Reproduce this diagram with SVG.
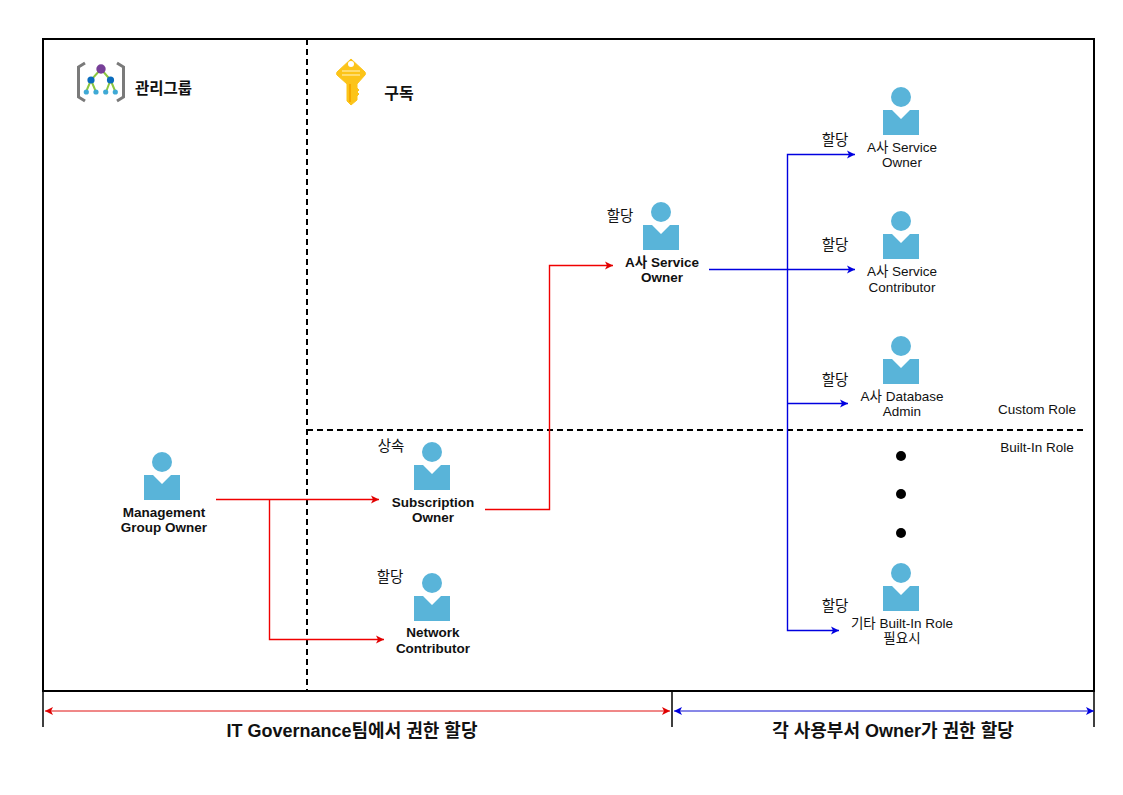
<svg xmlns="http://www.w3.org/2000/svg" width="1123" height="795" viewBox="0 0 1123 795">
<style>
text{font-family:"Liberation Sans","Noto Sans CJK KR",sans-serif;font-size:13.5px;fill:#111;text-anchor:middle}
.b{font-weight:bold}
.k{font-size:14.5px}
.big{font-weight:bold;font-size:18px}
.frame{fill:none;stroke:#000;stroke-width:2}
.dash{fill:none;stroke:#000;stroke-width:2;stroke-dasharray:6 4}
.red{fill:none;stroke:#f00000;stroke-width:1.4;marker-end:url(#ar)}
.blue{fill:none;stroke:#0000e0;stroke-width:1.4;marker-end:url(#ab)}
.p{fill:#59b4d9}
</style>
<defs>
<marker id="ar" markerUnits="userSpaceOnUse" markerWidth="9" markerHeight="9" refX="8" refY="4.5" orient="auto-start-reverse"><path d="M0,0.5L8,4.5L0,8.5L2,4.5Z" fill="#e00000"/></marker>
<marker id="ab" markerUnits="userSpaceOnUse" markerWidth="9" markerHeight="9" refX="8" refY="4.5" orient="auto-start-reverse"><path d="M0,0.5L8,4.5L0,8.5L2,4.5Z" fill="#0000e0"/></marker>
<g id="person"><circle class="p" cx="0" cy="0" r="10"/><path class="p" d="M-18,13H-9L0,22L9,13H18V38H-18Z"/></g>
</defs>
<rect width="1123" height="795" fill="#fff"/>
<g id="frame">
<rect class="frame" x="43" y="39" width="1051" height="652"/>
<path d="M43,691V727M672,691V727M1094,691V727" fill="none" stroke="#000" stroke-width="1.5"/>
<path class="dash" d="M307,39V691"/>
<path class="dash" d="M307,430H1086"/>
</g>
<g id="connectors">
<path class="red" d="M216,499.5H379"/>
<path class="red" d="M269.5,499.5V639.5H384"/>
<path class="red" d="M485,509.5H549.5V265.5H613"/>
<path class="blue" d="M709,269.5H855"/>
<path class="blue" d="M787.5,269.5V154.5H855"/>
<path class="blue" d="M787.5,269.5V630.5H839"/>
<path class="blue" d="M787.5,403.5H848"/>
<path d="M45,711H670" fill="none" stroke="#e01010" stroke-width="1" marker-start="url(#ar)" marker-end="url(#ar)"/>
<path d="M674,711H1094" fill="none" stroke="#1010d0" stroke-width="1" marker-start="url(#ab)" marker-end="url(#ab)"/>
</g>
<g id="mgmt-icon">
<path d="M85,63L78.500,67V97L85,101M117,63L123.500,67V97L117,101" fill="none" stroke="#7a7a7a" stroke-width="3"/>
<path d="M101,69L91,80L86,92M91,80L96,92M101,69L110.500,80L106,92M110.500,80L115.500,92" fill="none" stroke="#8cc63f" stroke-width="2"/>
<circle cx="101" cy="69" r="4.700" fill="#773f98"/>
<circle cx="91" cy="80" r="3.600" fill="#0a6cbd"/><circle cx="110.500" cy="80" r="3.600" fill="#0a6cbd"/>
<circle cx="86.300" cy="92" r="2.600" fill="#3fa9d5"/><circle cx="96" cy="92" r="2.600" fill="#3fa9d5"/><circle cx="105.700" cy="92" r="2.600" fill="#3fa9d5"/><circle cx="115.300" cy="92" r="2.600" fill="#3fa9d5"/>
<text class="b" x="163.500" y="94" style="font-size:15.500px">관리그룹</text>
</g>
<g id="key-icon">
<path d="M351,59L365,72Q366,74 365,75L357,84V88L359,90L357,92L359,94L357,96V100L351,105L347,101V84L337,75Q336,74 337,72Z" fill="#fcc419" stroke="#fcc419" stroke-linejoin="round"/>
<circle cx="351" cy="64" r="3" fill="#fff"/>
<path d="M342,71H360M342,75H360" stroke="#ffe38a" stroke-width="1.500"/>
<path d="M350,84V102" stroke="#f5a800" stroke-width="2"/>
<text class="b" x="399" y="99" style="font-size:16px">구독</text>
</g>
<g id="node-mgo"><use href="#person" x="162" y="462"/><text class="b" x="164" y="517">Management</text><text class="b" x="164" y="532">Group Owner</text></g>
<g id="node-sub"><use href="#person" x="432" y="452"/><text class="k" x="391" y="451">상속</text><text class="b" x="433" y="507">Subscription</text><text class="b" x="433" y="522">Owner</text></g>
<g id="node-net"><use href="#person" x="432" y="583"/><text class="k" x="390" y="582">할당</text><text class="b" x="433" y="637">Network</text><text class="b" x="433" y="653">Contributor</text></g>
<g id="node-aso"><use href="#person" x="661" y="212"/><text class="k" x="620" y="221">할당</text><text class="b" x="662" y="267">A사 Service</text><text class="b" x="662" y="282">Owner</text></g>
<g id="node-a1"><use href="#person" x="901" y="97"/><text class="k" x="835" y="145">할당</text><text x="902" y="152">A사 Service</text><text x="902" y="167">Owner</text></g>
<g id="node-a2"><use href="#person" x="901" y="221"/><text class="k" x="835" y="250">할당</text><text x="902" y="276">A사 Service</text><text x="902" y="292">Contributor</text></g>
<g id="node-a3"><use href="#person" x="901" y="346"/><text class="k" x="835" y="385">할당</text><text x="902" y="401">A사 Database</text><text x="902" y="416">Admin</text></g>
<g id="node-a4"><use href="#person" x="901" y="573"/><text class="k" x="835" y="611">할당</text><text x="902" y="628">기타 Built-In Role</text><text x="902" y="643">필요시</text></g>
<g id="dots"><circle cx="901" cy="456" r="5"/><circle cx="901" cy="494" r="5"/><circle cx="901" cy="533" r="5"/></g>
<g id="labels">
<text x="1037" y="414">Custom Role</text>
<text x="1037" y="452">Built-In Role</text>
<text class="big" x="352" y="737">IT Governance팀에서 권한 할당</text>
<text class="big" x="893" y="737">각 사용부서 Owner가 권한 할당</text>
</g>
</svg>
